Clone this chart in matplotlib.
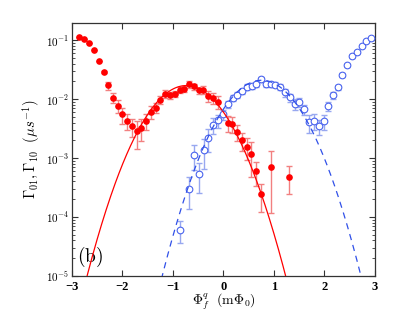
import numpy as np
import matplotlib
matplotlib.use('Agg')
import matplotlib.pyplot as plt
from matplotlib.ticker import LogLocator, FixedLocator, NullFormatter

plt.rcParams['mathtext.fontset'] = 'cm'
plt.rcParams['font.family'] = 'serif'
plt.rcParams['font.serif'] = ['Liberation Serif', 'DejaVu Serif']

# Gamma_01 (red, filled)
x_red = [-2.855, -2.762, -2.663, -2.564, -2.471, -2.372, -2.281, -2.182, -2.095, -2.004,
         -1.911, -1.812, -1.719, -1.628, -1.535, -1.436, -1.343, -1.251, -1.149, -1.055,
         -0.960, -0.861, -0.776, -0.677, -0.578, -0.479, -0.396, -0.297, -0.198, -0.109,
         0.085, 0.178, 0.271, 0.362, 0.459, 0.554, 0.650, 0.743, 0.935, 1.307]
log_red = [-0.937, -0.976, -1.039, -1.158, -1.349, -1.542, -1.768, -1.976, -2.119, -2.260,
           -2.366, -2.463, -2.542, -2.485, -2.373, -2.220, -2.146, -2.010, -1.908, -1.932,
           -1.912, -1.847, -1.830, -1.750, -1.785, -1.853, -1.839, -1.946, -1.980, -2.047,
           -2.403, -2.424, -2.561, -2.700, -2.810, -2.925, -3.222, -3.620, -3.146, -3.319]
rel_err_red = [0.0, 0.0, 0.0, 0.0, 0.0, 0.05, 0.15, 0.2, 0.25, 0.3,
               0.3, 0.35, 0.5, 0.4, 0.3, 0.25, 0.2, 0.15, 0.15, 0.15,
               0.12, 0.12, 0.12, 0.12, 0.12, 0.12, 0.15, 0.2, 0.2, 0.25,
               0.3, 0.3, 0.3, 0.35, 0.4, 0.6, 0.45, 0.5, 0.84, 0.5]

# Gamma_10 (blue, open)
x_blue = [-0.861, -0.677, -0.584, -0.485, -0.392, -0.297, -0.202, -0.103, -0.006, 0.089,
          0.182, 0.273, 0.370, 0.465, 0.560, 0.653, 0.752, 0.842, 0.937, 1.030,
          1.129, 1.224, 1.317, 1.410, 1.501, 1.600, 1.693, 1.786, 1.885, 1.984,
          2.069, 2.168, 2.261, 2.356, 2.450, 2.549, 2.640, 2.737, 2.832, 2.925]
log_blue = [-4.225, -3.519, -2.942, -3.271, -2.864, -2.658, -2.434, -2.361, -2.259, -2.085,
            -1.976, -1.925, -1.869, -1.793, -1.781, -1.747, -1.663, -1.742, -1.751, -1.754,
            -1.798, -1.886, -1.971, -2.085, -2.051, -2.175, -2.395, -2.373, -2.463, -2.378,
            -2.124, -1.937, -1.802, -1.585, -1.429, -1.276, -1.205, -1.090, -1.019, -0.963]
rel_err_blue = [0.4, 0.55, 0.46, 0.52, 0.53, 0.42, 0.3, 0.25, 0.2, 0.15,
                0.12, 0.12, 0.1, 0.1, 0.1, 0.1, 0.1, 0.1, 0.1, 0.1,
                0.12, 0.15, 0.15, 0.2, 0.18, 0.2, 0.34, 0.3, 0.3, 0.3,
                0.18, 0.12, 0.1, 0.08, 0.05, 0.05, 0.05, 0.0, 0.0, 0.0]

# gaussian fits (parabola in log10)
fit_red = dict(center=-0.735, peak=-1.77, halfwidth=1.965, drop=3.23)
fit_blue = dict(center=0.755, peak=-1.68, halfwidth=1.967, drop=3.32)

xticks = [-3, -2, -1, 0, 1, 2, 3]
yticks = [1e-5, 1e-4, 1e-3, 1e-2, 1e-1]
yticklabels = [r'$\mathbf{10^{-5}}$', r'$\mathbf{10^{-4}}$', r'$\mathbf{10^{-3}}$',
               r'$\mathbf{10^{-2}}$', r'$\mathbf{10^{-1}}$']


def fit_curve(xs, p):
    u = (xs - p['center']) / p['halfwidth']
    return 10 ** (p['peak'] - p['drop'] * u ** 2)


fig = plt.figure(figsize=(4.15, 3.11), dpi=100)
ax = fig.add_axes([0.1735, 0.1135, 0.730, 0.8125])

yr = 10 ** np.array(log_red)
yb = 10 ** np.array(log_blue)

ax.errorbar(x_red, yr, yerr=yr * np.array(rel_err_red), fmt='none',
            ecolor='#f28080', elinewidth=1.0, capsize=2.5, capthick=1.0, zorder=2)
ax.plot(x_red, yr, 'o', color='#ff0000', markersize=4.8, markeredgewidth=0, zorder=3)

ax.errorbar(x_blue, yb, yerr=yb * np.array(rel_err_blue), fmt='none',
            ecolor='#98a8f0', elinewidth=1.0, capsize=2.5, capthick=1.0, zorder=2)
ax.plot(x_blue, yb, 'o', markerfacecolor='white', markeredgecolor='#4a64ee',
        markersize=4.8, markeredgewidth=0.8, zorder=3)

xs = np.linspace(-3, 3, 400)
ax.plot(xs, fit_curve(xs, fit_red), '-', color='#ff0000', linewidth=0.9, zorder=4)
ax.plot(xs, fit_curve(xs, fit_blue), '--', color='#3050e8', linewidth=0.9,
        dashes=(5, 4), zorder=4)

ax.set_yscale('log')
ax.set_xlim(-3, 3)
ax.set_ylim(1e-5, 0.196)

ax.xaxis.set_major_locator(FixedLocator(xticks))
ax.set_xticklabels([str(t).replace('-', '\u2212') for t in xticks],
                   fontweight='bold', fontsize=9)
ax.yaxis.set_major_locator(FixedLocator(yticks))
ax.set_yticklabels(yticklabels, fontsize=8)
ax.yaxis.set_minor_locator(LogLocator(base=10, subs=np.arange(2, 10), numticks=20))
ax.yaxis.set_minor_formatter(NullFormatter())

ax.tick_params(which='both', direction='in', top=True, right=True, color='#333333')
ax.tick_params(which='major', length=4, width=0.8)
ax.tick_params(which='minor', length=2, width=0.6)
ax.tick_params(axis='x', pad=4)
ax.tick_params(axis='y', pad=2)
for s in ax.spines.values():
    s.set_color('#333333')
    s.set_linewidth(0.9)

ax.set_xlabel(r'$\Phi_f^q\ \ (\mathrm{m}\Phi_0)$', fontsize=10, labelpad=-1)
ax.set_ylabel(r'$\Gamma_{01},\Gamma_{10}\ \ (\mu s^{-1})$', fontsize=10.5, labelpad=3)

ax.text(-2.64, 10 ** -4.68, r'$(\mathrm{b})$', fontsize=14, ha='center', va='center')

fig.savefig('out.png', dpi=100)
